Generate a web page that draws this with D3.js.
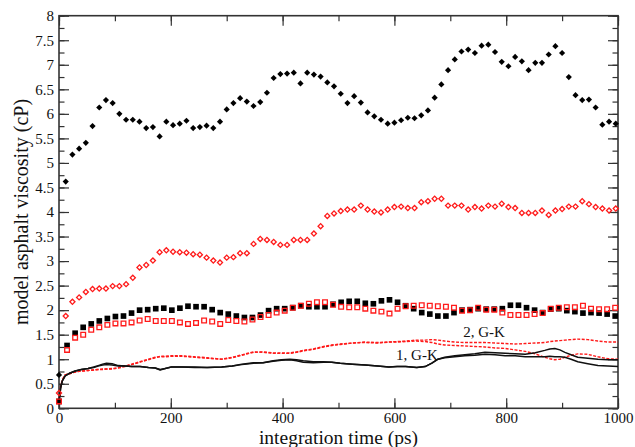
<!DOCTYPE html>
<html>
<head>
<meta charset="utf-8">
<script src="https://cdn.jsdelivr.net/npm/d3@7/dist/d3.min.js"></script>
<style>
html,body{margin:0;padding:0;background:#fff;}
svg{display:block;}
</style>
</head>
<body>
<svg id="chart" width="635" height="447"></svg>
<script>
// ---------------- DATA ----------------
const diamondStep = 12;      // ps between diamond samples
const squareStep = 14.42;    // ps between square samples

const blackDiamonds = [0.68, 4.62, 5.17, 5.29, 5.41, 5.75, 6.13, 6.28, 6.22, 6.00, 5.88, 5.88, 5.84, 5.71, 5.73, 5.54, 5.84, 5.77, 5.80, 5.86, 5.71, 5.73, 5.76, 5.71, 5.84, 6.09, 6.22, 6.32, 6.25, 6.16, 6.24, 6.43, 6.73, 6.81, 6.82, 6.84, 6.62, 6.84, 6.80, 6.76, 6.64, 6.56, 6.41, 6.22, 6.36, 6.23, 6.03, 5.95, 5.88, 5.80, 5.82, 5.87, 5.92, 5.91, 5.97, 6.07, 6.33, 6.60, 6.89, 7.11, 7.27, 7.31, 7.24, 7.39, 7.41, 7.26, 7.06, 6.97, 7.16, 7.07, 6.89, 7.04, 7.04, 7.21, 7.38, 7.24, 6.75, 6.38, 6.28, 6.29, 6.13, 5.78, 5.84, 5.80];

const redDiamonds = [0.31, 1.88, 2.17, 2.26, 2.37, 2.43, 2.44, 2.44, 2.49, 2.49, 2.53, 2.66, 2.87, 2.92, 3.01, 3.18, 3.22, 3.19, 3.18, 3.17, 3.14, 3.13, 3.07, 3.01, 2.97, 3.07, 3.08, 3.16, 3.16, 3.35, 3.45, 3.43, 3.39, 3.33, 3.33, 3.43, 3.43, 3.43, 3.56, 3.71, 3.92, 3.97, 4.02, 4.05, 4.05, 4.13, 4.05, 4.01, 3.99, 4.05, 4.10, 4.11, 4.08, 4.08, 4.20, 4.22, 4.27, 4.27, 4.13, 4.13, 4.13, 4.05, 4.10, 4.07, 4.13, 4.11, 4.17, 4.10, 4.08, 3.98, 3.98, 3.98, 4.03, 3.94, 4.03, 4.06, 4.11, 4.11, 4.22, 4.16, 4.10, 4.07, 4.03, 4.07];

const blackSquares = [0.14, 1.28, 1.53, 1.65, 1.72, 1.78, 1.83, 1.87, 1.88, 1.94, 2.00, 2.01, 2.03, 2.04, 2.00, 2.04, 2.08, 2.07, 2.07, 2.01, 1.95, 1.92, 1.88, 1.85, 1.85, 1.90, 1.99, 2.03, 2.03, 2.05, 2.09, 2.07, 2.07, 2.07, 2.12, 2.16, 2.18, 2.18, 2.14, 2.13, 2.19, 2.21, 2.16, 2.09, 2.03, 1.95, 1.92, 1.88, 1.88, 1.95, 2.00, 2.01, 2.03, 2.02, 2.02, 2.03, 2.10, 2.10, 2.05, 2.00, 1.95, 2.02, 2.03, 1.99, 1.97, 1.94, 1.95, 1.94, 1.92, 1.88];

const redSquares = [0.14, 1.19, 1.44, 1.50, 1.60, 1.65, 1.70, 1.73, 1.73, 1.75, 1.79, 1.82, 1.78, 1.78, 1.78, 1.75, 1.72, 1.74, 1.79, 1.77, 1.72, 1.80, 1.78, 1.77, 1.81, 1.86, 1.90, 1.95, 1.99, 2.05, 2.09, 2.13, 2.16, 2.16, 2.11, 2.07, 2.06, 2.06, 2.03, 1.99, 1.97, 1.93, 2.03, 2.08, 2.09, 2.10, 2.09, 2.08, 2.07, 2.05, 1.99, 2.00, 2.05, 2.01, 2.01, 1.95, 1.90, 1.90, 1.90, 1.92, 1.94, 2.03, 2.05, 2.06, 2.06, 2.09, 2.03, 2.02, 2.02, 2.05];

// G-K running viscosity curves
const lineTime = [0, 3, 6, 11, 20, 29, 40, 52, 62, 70, 78, 85, 95, 106, 118, 130, 145, 160, 172, 181, 190, 201, 220, 243, 265, 291, 310, 327, 348, 365, 383, 398, 413, 425, 437, 455, 473, 488, 503, 525, 548, 570, 590, 605, 620, 640, 655, 667, 678, 690, 708, 726, 744, 762, 780, 798, 816, 834, 852, 869, 878, 887, 896, 905, 916, 928, 946, 964, 982, 1000];

const gk1a = [0.12, 0.42, 0.56, 0.66, 0.72, 0.76, 0.79, 0.81, 0.84, 0.87, 0.90, 0.92, 0.91, 0.87, 0.86, 0.85, 0.85, 0.83, 0.82, 0.78, 0.81, 0.84, 0.84, 0.84, 0.83, 0.84, 0.86, 0.90, 0.93, 0.93, 0.97, 0.99, 1.00, 0.99, 0.97, 0.95, 0.95, 0.94, 0.92, 0.90, 0.88, 0.86, 0.84, 0.85, 0.85, 0.83, 0.85, 0.92, 1.00, 1.04, 1.07, 1.09, 1.11, 1.14, 1.13, 1.12, 1.11, 1.10, 1.13, 1.18, 1.21, 1.22, 1.19, 1.14, 1.09, 1.04, 1.02, 1.00, 0.99, 0.99];

const gk1b = [0.12, 0.42, 0.56, 0.66, 0.72, 0.76, 0.79, 0.81, 0.83, 0.86, 0.88, 0.89, 0.88, 0.86, 0.86, 0.85, 0.85, 0.83, 0.82, 0.79, 0.81, 0.84, 0.84, 0.83, 0.83, 0.84, 0.86, 0.89, 0.92, 0.93, 0.96, 0.98, 0.99, 0.97, 0.94, 0.93, 0.94, 0.94, 0.92, 0.90, 0.88, 0.86, 0.84, 0.85, 0.85, 0.83, 0.85, 0.92, 1.00, 1.03, 1.05, 1.07, 1.08, 1.10, 1.09, 1.07, 1.07, 1.05, 1.05, 1.05, 1.06, 1.05, 1.05, 1.04, 1.00, 0.95, 0.91, 0.87, 0.86, 0.85];

const gk2a = [0.14, 0.45, 0.58, 0.68, 0.71, 0.74, 0.76, 0.77, 0.78, 0.79, 0.79, 0.80, 0.80, 0.82, 0.85, 0.89, 0.94, 0.99, 1.03, 1.06, 1.06, 1.07, 1.07, 1.05, 1.03, 1.00, 1.04, 1.09, 1.15, 1.14, 1.12, 1.12, 1.12, 1.14, 1.17, 1.20, 1.25, 1.28, 1.30, 1.33, 1.34, 1.33, 1.35, 1.36, 1.37, 1.39, 1.39, 1.40, 1.39, 1.37, 1.35, 1.34, 1.34, 1.34, 1.33, 1.32, 1.31, 1.32, 1.33, 1.34, 1.36, 1.37, 1.38, 1.39, 1.40, 1.41, 1.40, 1.37, 1.35, 1.35];

const gk2b = [0.14, 0.45, 0.58, 0.68, 0.71, 0.74, 0.76, 0.77, 0.78, 0.79, 0.80, 0.80, 0.81, 0.83, 0.86, 0.90, 0.95, 1.00, 1.04, 1.05, 1.05, 1.06, 1.06, 1.04, 1.02, 1.00, 1.03, 1.08, 1.14, 1.15, 1.13, 1.13, 1.13, 1.15, 1.18, 1.21, 1.26, 1.29, 1.31, 1.33, 1.35, 1.34, 1.35, 1.35, 1.36, 1.37, 1.36, 1.34, 1.31, 1.29, 1.28, 1.27, 1.26, 1.25, 1.23, 1.22, 1.19, 1.16, 1.11, 1.04, 1.01, 0.99, 1.00, 1.04, 1.08, 1.11, 1.10, 1.05, 1.01, 1.00];

const xTicks = [0, 200, 400, 600, 800, 1000];
const yTicks = [0, 0.5, 1, 1.5, 2, 2.5, 3, 3.5, 4, 4.5, 5, 5.5, 6, 6.5, 7, 7.5, 8];
const xLabel = "integration time (ps)";
const yLabel = "model asphalt viscosity (cP)";
const curveLabels = [{text: "1, G-K", t: 603, v: 0.98}, {text: "2, G-K", t: 723, v: 1.46}];

// ---------------- CHART ----------------
const svg = d3.select("#chart");
const L = 59, R = 618, T = 15.7, B = 408.3;
const x = d3.scaleLinear().domain([0, 1000]).range([L, R]);
const y = d3.scaleLinear().domain([0, 8]).range([B, T]);
const RED = "#ff1a1a";
const AX = "#333";
const FONT = "'Liberation Serif', 'DejaVu Serif', serif";

const xMinor = d3.range(0, 1001, 100);
const yMinor = d3.range(0, 8.001, 0.25);

function styleAxis(g) {
  g.select(".domain").remove();
  g.selectAll("line").attr("stroke", AX).attr("stroke-width", 1.2);
  g.selectAll("text").attr("font-family", FONT).attr("font-size", 15).attr("fill", "#111");
}

// minor ticks
svg.append("g").attr("transform", `translate(0,${B})`)
  .call(d3.axisBottom(x).tickValues(xMinor).tickSize(-5.5).tickFormat("")).call(styleAxis);
svg.append("g").attr("transform", `translate(0,${T})`)
  .call(d3.axisTop(x).tickValues(xMinor).tickSize(-5.5).tickFormat("")).call(styleAxis);
svg.append("g").attr("transform", `translate(${L},0)`)
  .call(d3.axisLeft(y).tickValues(yMinor).tickSize(-5.5).tickFormat("")).call(styleAxis);
svg.append("g").attr("transform", `translate(${R},0)`)
  .call(d3.axisRight(y).tickValues(yMinor).tickSize(-5.5).tickFormat("")).call(styleAxis);

// major ticks
svg.append("g").attr("transform", `translate(0,${B})`)
  .call(d3.axisBottom(x).tickValues(xTicks).tickSize(-10).tickPadding(4).tickFormat(d3.format("d"))).call(styleAxis);
svg.append("g").attr("transform", `translate(0,${T})`)
  .call(d3.axisTop(x).tickValues(xTicks).tickSize(-10).tickFormat("")).call(styleAxis);
svg.append("g").attr("transform", `translate(${L},0)`)
  .call(d3.axisLeft(y).tickValues(yTicks).tickSize(-10).tickPadding(5).tickFormat(d => String(d))).call(styleAxis);
svg.append("g").attr("transform", `translate(${R},0)`)
  .call(d3.axisRight(y).tickValues(yTicks).tickSize(-10).tickFormat("")).call(styleAxis);

// frame
svg.append("rect").attr("x", L).attr("y", T).attr("width", R - L).attr("height", B - T)
  .attr("fill", "none").attr("stroke", AX).attr("stroke-width", 1.6);

// lines
const line = d3.line().x(d => x(d[0])).y(d => y(d[1]));
function drawLine(vals, color, dash) {
  svg.append("path")
    .datum(lineTime.map((t, i) => [t, vals[i]]))
    .attr("d", line).attr("fill", "none").attr("stroke", color)
    .attr("stroke-width", dash ? 1.4 : 1.5)
    .attr("stroke-dasharray", dash ? "3,1.5" : null)
    .attr("stroke-linejoin", "round");
}
drawLine(gk2a, RED, true);
drawLine(gk2b, RED, true);
drawLine(gk1a, "#111", false);
drawLine(gk1b, "#111", false);

// markers
const diamond = d3.symbol().type(d3.symbolSquare).size(19);
const diamondOpen = d3.symbol().type(d3.symbolSquare).size(13);
const square = d3.symbol().type(d3.symbolSquare).size(32);
const squareOpen = d3.symbol().type(d3.symbolSquare).size(22);

function drawMarkers(vals, step, sym, fill, stroke, rot) {
  svg.append("g").selectAll("path").data(vals).join("path")
    .attr("d", sym)
    .attr("transform", (d, i) => `translate(${x(i * step)},${y(d)}) rotate(${rot})`)
    .attr("fill", fill)
    .attr("stroke", stroke)
    .attr("stroke-width", stroke === "none" ? 0 : 1.3);
}
drawMarkers(blackSquares, squareStep, square, "#000", "none", 0);
drawMarkers(redSquares, squareStep, squareOpen, "none", RED, 0);
drawMarkers(redDiamonds, diamondStep, diamondOpen, "none", RED, 45);
drawMarkers(blackDiamonds, diamondStep, diamond, "#000", "none", 45);

// curve labels
svg.append("g").selectAll("text").data(curveLabels).join("text")
  .attr("x", d => x(d.t)).attr("y", d => y(d.v))
  .attr("font-family", FONT).attr("font-size", 15).attr("fill", "#111")
  .text(d => d.text);

// axis titles
svg.append("text").attr("x", (L + R) / 2).attr("y", 444)
  .attr("text-anchor", "middle").attr("font-family", FONT).attr("font-size", 19.5).attr("fill", "#111")
  .text(xLabel);
svg.append("text").attr("transform", `translate(28,${(T + B) / 2}) rotate(-90)`)
  .attr("text-anchor", "middle").attr("font-family", FONT).attr("font-size", 20).attr("fill", "#111")
  .text(yLabel);
</script>
</body>
</html>
